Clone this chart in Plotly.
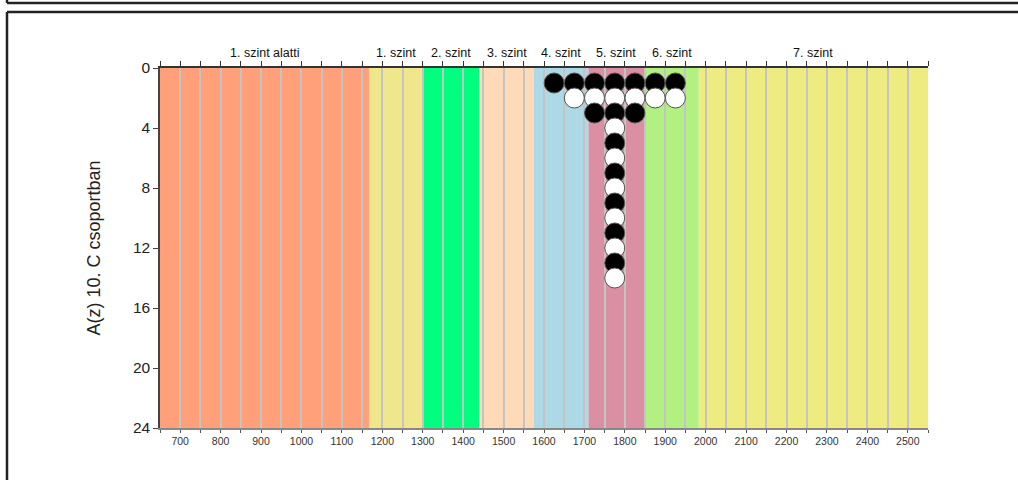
import plotly.graph_objects as go

# ---- data ----
band_names = ["1. szint alatti", "1. szint", "2. szint", "3. szint", "4. szint", "5. szint", "6. szint", "7. szint"]
band_edges = [650, 1167, 1300, 1440, 1575, 1710, 1848, 1983, 2550]
band_colors = ["#FFA07A", "#F0E68C", "#00FF7F", "#FFDAB9", "#ADD8E6", "#DB8FA3", "#B2F081", "#EEEC80"]

score_bins = [1625, 1675, 1725, 1775, 1825, 1875, 1925]
student_counts = [1, 2, 3, 14, 3, 2, 2]

x_tick_vals = list(range(650, 2551, 50))
x_tick_text = ["" if (v % 100 or v < 700 or v > 2500) else str(v) for v in x_tick_vals]
y_tick_vals = [0, 4, 8, 12, 16, 20, 24]

# ---- layout geometry (pixels) ----
W, H = 1018, 480
ML, MT = 160, 68
PW, PH = 768, 360
MR, MB = W - ML - PW, H - MT - PH

def px(xs):
    return (xs - ML) / PW

def py(ys):
    return (MT + PH - ys) / PH

FONT = "Arial, Liberation Sans, sans-serif"

fig = go.Figure()

# stacked dots
bx, by, bc = [], [], []
for s, c in zip(score_bins, student_counts):
    for k in range(1, c + 1):
        bx.append(s)
        by.append(k)
        bc.append("black" if k % 2 == 1 else "white")

fig.add_trace(go.Scatter(
    x=bx, y=by, mode="markers",
    marker=dict(size=20, color=bc, line=dict(color="#555555", width=1)),
    showlegend=False, hoverinfo="skip"))

# dummy trace for top axis
fig.add_trace(go.Scatter(x=[band_edges[0]], y=[0], xaxis="x2", mode="markers",
                         marker=dict(opacity=0), showlegend=False, hoverinfo="skip"))

shapes = []
annotations = []
for name, x0, x1, col in zip(band_names, band_edges[:-1], band_edges[1:], band_colors):
    shapes.append(dict(type="rect", xref="x", yref="paper", x0=x0, x1=x1, y0=0, y1=1,
                       fillcolor=col, line=dict(width=0), layer="below"))
    annotations.append(dict(text=name, xref="x", yref="paper", x=(x0 + x1) / 2, y=1,
                            yanchor="bottom", yshift=6, showarrow=False,
                            font=dict(family=FONT, size=12.5, color="#111")))

# outer frame lines
bc_line = dict(color="#222222", width=2.5)
shapes.append(dict(type="line", xref="paper", yref="paper", x0=px(7), x1=px(1030), y0=py(3), y1=py(3), line=bc_line))
shapes.append(dict(type="line", xref="paper", yref="paper", x0=px(7), x1=px(7), y0=py(-5), y1=py(3), line=bc_line))
shapes.append(dict(type="line", xref="paper", yref="paper", x0=px(7), x1=px(1030), y0=py(12), y1=py(12), line=bc_line))
shapes.append(dict(type="line", xref="paper", yref="paper", x0=px(7), x1=px(7), y0=py(12), y1=py(490), line=bc_line))

fig.update_layout(
    width=W, height=H,
    margin=dict(l=ML, r=MR, t=MT, b=MB),
    paper_bgcolor="white", plot_bgcolor="white",
    shapes=shapes, annotations=annotations,
    font=dict(family=FONT, color="#222"),
    xaxis=dict(range=[band_edges[0], band_edges[-1]], tickmode="array",
               tickvals=x_tick_vals, ticktext=x_tick_text,
               showgrid=True, gridcolor="#C4C4C4", gridwidth=1.5,
               ticks="outside", ticklen=3, tickcolor="#555", tickwidth=1,
               showline=True, linecolor="#888888", linewidth=1.5,
               tickfont=dict(size=10.5, family=FONT, color="#333"),
               zeroline=False),
    xaxis2=dict(range=[band_edges[0], band_edges[-1]], overlaying="x", side="top",
                tickmode="array", tickvals=x_tick_vals, showticklabels=False,
                ticks="outside", ticklen=5, tickcolor="#333", tickwidth=1,
                showline=True, linecolor="#333", linewidth=1.5,
                showgrid=False, zeroline=False),
    yaxis=dict(range=[24, 0], tickmode="array", tickvals=y_tick_vals,
               ticks="outside", ticklen=5, tickcolor="#444", tickwidth=1,
               showline=True, linecolor="#444", linewidth=1.5,
               showgrid=False, zeroline=False,
               tickfont=dict(size=15.5, family=FONT, color="#222"),
               title=dict(text="A(z) 10. C csoportban", standoff=28,
                          font=dict(size=18, family=FONT, color="#222"))),
)

fig.write_html("out.html", config={"displayModeBar": False},
               post_script="document.body.style.margin='0px';document.body.style.overflow='hidden';")
